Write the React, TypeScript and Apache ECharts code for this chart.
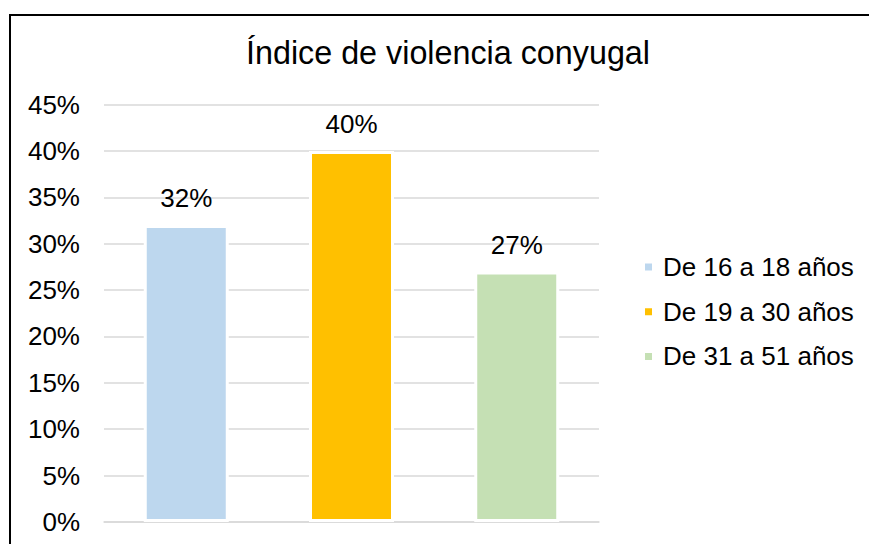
import React, { useEffect, useRef } from "react";
import * as echarts from "echarts";

const seriesNames = ["De 16 a 18 años", "De 19 a 30 años", "De 31 a 51 años"];
const seriesValues = [32, 40, 27];
const seriesLabels = ["32%", "40%", "27%"];
const seriesColors = ["#bdd7ee", "#ffc000", "#c5e0b4"];
const categories = [""];
const titleText = "Índice de violencia conyugal";

export default function App() {
  const ref = useRef<HTMLDivElement>(null);
  useEffect(() => {
    const chart = echarts.init(ref.current!, null, { renderer: "svg" });
    const font = "'Liberation Sans', Arial, sans-serif";
    chart.setOption({
      animation: false,
      backgroundColor: "#ffffff",
      textStyle: { fontFamily: font },
      title: {
        text: titleText,
        left: 246,
        top: 37,
        padding: 0,
        textStyle: { fontFamily: font, fontSize: 32.3, fontWeight: "normal", color: "#000000" },
      },
      graphic: [
        {
          type: "rect",
          shape: { x: 10, y: 15, width: 900, height: 600 },
          style: { fill: "none", stroke: "#000000", lineWidth: 2 },
          silent: true,
        },
      ],
      legend: {
        orient: "vertical",
        left: 643,
        top: 252,
        padding: 0,
        itemWidth: 9,
        itemHeight: 9,
        itemGap: 14.7,
        icon: "rect",
        textStyle: {
          fontFamily: font,
          fontSize: 26,
          color: "#000000",
          lineHeight: 30,
          padding: [0, 0, 0, 5],
        },
        data: seriesNames,
      },
      grid: { left: 104, right: 270, top: 104.5, bottom: 22, containLabel: false },
      xAxis: {
        type: "category",
        data: categories,
        axisLine: { show: true, lineStyle: { color: "#d9d9d9", width: 1.5 } },
        axisTick: { show: false },
        axisLabel: { show: false },
      },
      yAxis: {
        type: "value",
        min: 0,
        max: 45,
        interval: 5,
        axisLine: { show: false },
        axisTick: { show: false },
        axisLabel: {
          formatter: (v: number) => `${v}%`,
          fontFamily: font,
          fontSize: 26,
          color: "#000000",
          margin: 24,
        },
        splitLine: { lineStyle: { color: "#d9d9d9", width: 1.5 } },
      },
      series: seriesNames.map((name, i) => ({
        name,
        type: "bar",
        data: [seriesValues[i]],
        barWidth: 85,
        barGap: "94.4%",
        itemStyle: { color: seriesColors[i], borderColor: "#ffffff", borderWidth: 3 },
        label: {
          show: true,
          position: "top",
          distance: 14,
          formatter: () => seriesLabels[i],
          fontFamily: font,
          fontSize: 26,
          color: "#000000",
        },
      })),
    });
    return () => chart.dispose();
  }, []);
  return (
    <div
      ref={ref}
      style={{ position: "fixed", left: 0, top: 0, width: 869, height: 544 }}
    />
  );
}
